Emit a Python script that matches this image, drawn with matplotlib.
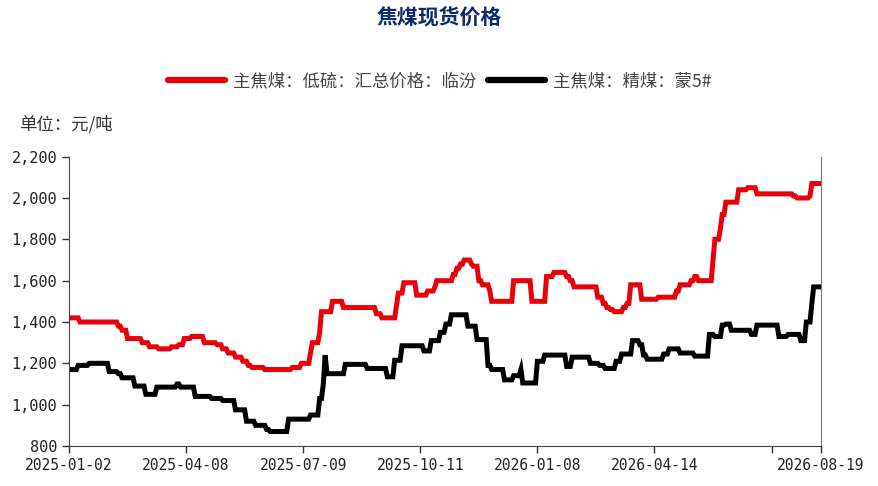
import numpy as np
import matplotlib.pyplot as plt
from matplotlib.ticker import FuncFormatter

plt.rcParams['font.family'] = ['Noto Sans CJK SC', 'DejaVu Sans']

# 交易日序号（0 = 2025-01-02，411 = 2026-08-19）
n_days = 412
tick_pos = [0, 64, 128, 192, 256, 320, 384, 411]
tick_labels = ['2025-01-02', '2025-04-08', '2025-07-09', '2025-10-11',
               '2026-01-08', '2026-04-14', '', '2026-08-19']

# 主焦煤：低硫：汇总价格：临汾 —— 价格变动日及新价格
red_days = [0, 6, 27, 29, 32, 40, 44, 49, 56, 60, 63, 67, 74, 81, 84, 87, 91, 95,
            98, 100, 107, 122, 127, 132, 133, 137, 138, 144, 150, 168, 171, 179,
            180, 183, 190, 196, 200, 201, 210, 212, 214, 216, 220, 221, 224, 226,
            230, 231, 243, 253, 261, 265, 272, 274, 276, 289, 292, 294, 296, 298,
            303, 305, 307, 313, 322, 332, 334, 340, 342, 344, 352, 353, 356, 357,
            359, 366, 371, 376, 396, 398, 405, 406]
red_vals = [1420, 1400, 1380, 1360, 1320, 1300, 1280, 1270, 1280, 1290, 1320, 1330,
            1300, 1290, 1270, 1250, 1230, 1210, 1190, 1180, 1170, 1180, 1200, 1250,
            1300, 1350, 1450, 1500, 1470, 1440, 1420, 1480, 1540, 1590, 1530, 1550,
            1570, 1600, 1630, 1660, 1680, 1700, 1680, 1670, 1600, 1580, 1550, 1500,
            1600, 1500, 1620, 1640, 1620, 1600, 1570, 1520, 1490, 1470, 1460, 1450,
            1470, 1490, 1580, 1510, 1520, 1550, 1580, 1600, 1620, 1600, 1700, 1800,
            1850, 1920, 1980, 2040, 2050, 2020, 2010, 2000, 2010, 2070]

# 主焦煤：精煤：蒙5# —— 价格变动日及新价格
black_days = [0, 5, 11, 22, 27, 29, 36, 42, 48, 59, 61, 69, 78, 84, 91, 97, 102,
              108, 110, 120, 132, 137, 139, 140, 141, 151, 163, 174, 178, 182, 194,
              198, 203, 206, 209, 218, 223, 229, 231, 238, 243, 247, 248, 256, 260,
              272, 275, 285, 290, 293, 299, 302, 308, 312, 314, 316, 325, 328, 334,
              342, 350, 353, 357, 359, 362, 373, 376, 388, 393, 400, 403, 406, 407]
black_vals = [1170, 1190, 1200, 1160, 1150, 1130, 1090, 1050, 1085, 1100, 1085,
              1040, 1030, 1020, 975, 920, 900, 880, 870, 930, 950, 1030, 1100, 1240,
              1150, 1195, 1175, 1135, 1215, 1285, 1260, 1310, 1350, 1390, 1435, 1380,
              1315, 1190, 1170, 1120, 1140, 1170, 1105, 1210, 1240, 1185, 1230, 1200,
              1190, 1175, 1210, 1245, 1310, 1290, 1240, 1220, 1245, 1270, 1250, 1235,
              1340, 1330, 1385, 1390, 1360, 1340, 1385, 1330, 1340, 1310, 1400, 1490,
              1570]


def daily(days, vals):
    idx = np.arange(n_days)
    pos = np.searchsorted(days, idx, side='right') - 1
    return np.asarray(vals)[pos]


x = np.arange(n_days)
red = daily(red_days, red_vals)
black = daily(black_days, black_vals)

fig = plt.figure(figsize=(8.79, 4.86), dpi=100)
ax = fig.add_axes([0.0785, 0.0823, 0.8555, 0.5953])

ax.plot(x, red, color='#e8000b', lw=3.6, solid_joinstyle='miter',
        label='主焦煤：低硫：汇总价格：临汾')
ax.plot(x, black, color='#000000', lw=3.6, solid_joinstyle='miter',
        label='主焦煤：精煤：蒙5#')

ax.set_xlim(0, 411)
ax.set_ylim(800, 2200)
ax.set_yticks(range(800, 2201, 200))
ax.yaxis.set_major_formatter(FuncFormatter(lambda v, p: f'{int(v):,}'))
ax.set_xticks(tick_pos)
ax.set_xticklabels(tick_labels)
ax.tick_params(axis='both', direction='out', length=5, width=1, colors='#333333',
               labelcolor='#222222')
for lab in ax.get_xticklabels():
    lab.set_family('DejaVu Sans Mono')
    lab.set_fontsize(10.5)
for lab in ax.get_yticklabels():
    lab.set_family('DejaVu Sans Mono')
    lab.set_fontsize(11)

ax.spines['top'].set_visible(False)
for s in ['left', 'bottom']:
    ax.spines[s].set_color('#444444')
ax.spines['right'].set_color('#777777')
ax.spines['right'].set_linewidth(0.8)

fig.text(0.5, 0.962, '焦煤现货价格', ha='center', va='center', fontsize=15,
         fontweight='bold', color='#0d2a6b')
fig.text(0.022, 0.745, '单位：元/吨', ha='left', va='center', fontsize=12.5,
         color='#333333')

leg = fig.legend(loc='center', bbox_to_anchor=(0.5, 0.833), ncol=2, frameon=False,
                 fontsize=12.5, handlelength=3.3, columnspacing=0.7,
                 handletextpad=0.45)
for line in leg.get_lines():
    line.set_linewidth(4.5)
    line.set_solid_capstyle('round')
for t in leg.get_texts():
    t.set_color('#444444')

fig.savefig('out.png', dpi=100)
